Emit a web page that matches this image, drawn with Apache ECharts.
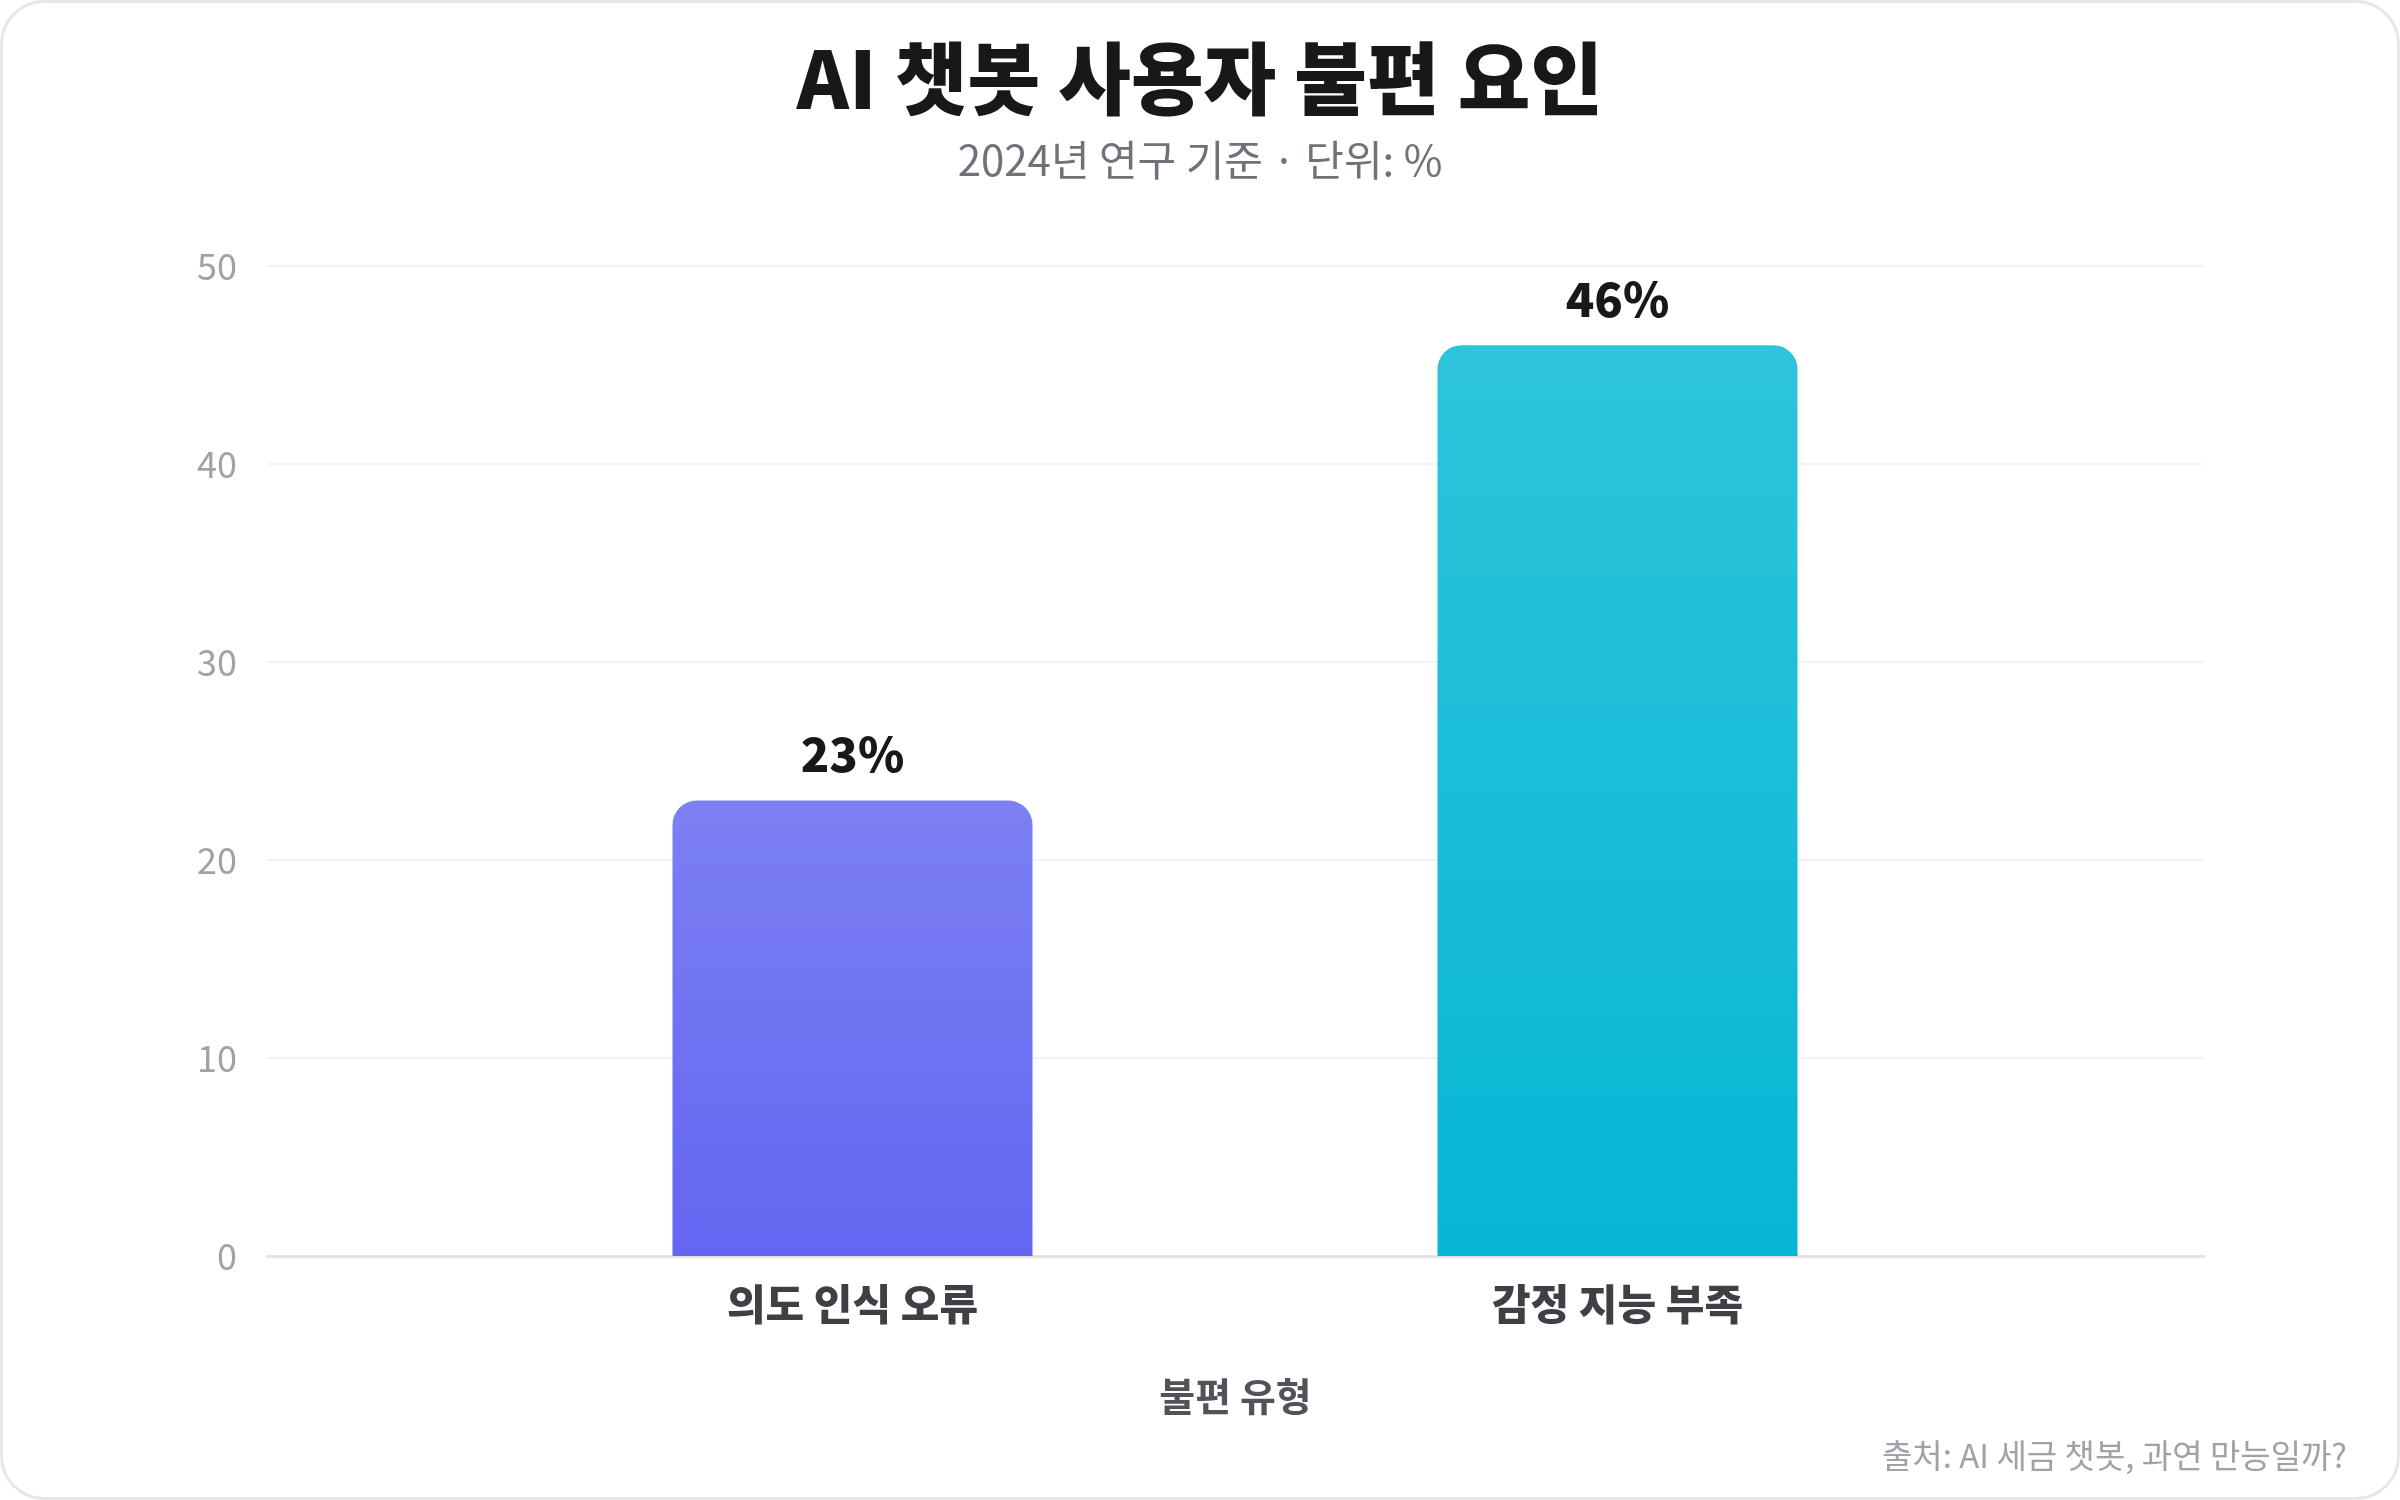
<!DOCTYPE html>
<html>
<head>
<meta charset="utf-8">
<script src="https://cdn.jsdelivr.net/npm/echarts@6/dist/echarts.min.js"></script>
<style>
  html, body { margin: 0; padding: 0; background: #fff; }
  #chart {
    width: 2400px; height: 1500px; box-sizing: border-box;
    border: 3px solid #e6e6e9; border-radius: 44px; overflow: hidden; background: #fff;
  }
</style>
</head>
<body>
<div id="chart"></div>
<script>
const categories = ['의도 인식 오류', '감정 지능 부족'];
const values = [23, 46];
const yTicks = {min: 0, max: 50, interval: 10};

// 막대 그라데이션 (위 -> 아래)
const barColors = [
  ['#7c80f3', '#6366f1'],
  ['#2ec4db', '#06b6d4'],
];

const FONT = '"Noto Sans CJK KR", "Noto Sans", sans-serif';

const chart = echarts.init(document.getElementById('chart'), null, {renderer: 'canvas'});

const option = {
  backgroundColor: 'transparent',
  textStyle: {fontFamily: FONT},
  title: {
    text: 'AI 챗봇 사용자 불편 요인',
    subtext: '2024년 연구 기준 · 단위: %',
    left: 'center',
    top: 29,
    itemGap: 17,
    textStyle: {fontFamily: FONT, fontSize: 79, fontWeight: 900, color: '#18181b', lineHeight: 84},
    subtextStyle: {fontFamily: FONT, fontSize: 42, color: '#71717a', lineHeight: 44},
  },
  grid: [
    // 배경 격자 (전체 폭)
    {left: 264, right: 193, top: 263, bottom: 241},
    // 막대 영역
    {left: 467, right: 397, top: 263, bottom: 241},
  ],
  xAxis: [
    {
      gridIndex: 0,
      type: 'category',
      data: categories,
      name: '불편 유형',
      nameLocation: 'middle',
      nameGap: 121,
      nameTextStyle: {fontFamily: FONT, fontSize: 39, fontWeight: 700, color: '#52525b'},
      axisLine: {show: true, lineStyle: {color: '#e4e4e7', width: 3}},
      axisTick: {show: false},
      axisLabel: {show: false},
    },
    {
      gridIndex: 1,
      type: 'category',
      data: categories,
      axisLine: {show: false},
      axisTick: {show: false},
      axisLabel: {
        margin: 27,
        fontFamily: FONT, fontSize: 42, fontWeight: 800, color: '#3f3f46',
      },
    },
  ],
  yAxis: [
    {
      gridIndex: 0,
      type: 'value',
      min: yTicks.min, max: yTicks.max, interval: yTicks.interval,
      axisLine: {show: false},
      axisTick: {show: false},
      axisLabel: {margin: 30, fontFamily: FONT, fontSize: 36, color: '#a1a1aa'},
      splitLine: {lineStyle: {color: '#f3f3f5', width: 2}},
    },
    {
      gridIndex: 1,
      type: 'value',
      min: yTicks.min, max: yTicks.max, interval: yTicks.interval,
      show: false,
      splitLine: {show: false},
    },
  ],
  series: [
    {
      type: 'bar',
      xAxisIndex: 1,
      yAxisIndex: 1,
      barWidth: 360,
      data: values.map((v, i) => ({
        value: v,
        itemStyle: {
          color: new echarts.graphic.LinearGradient(0, 0, 0, 1, [
            {offset: 0, color: barColors[i][0]},
            {offset: 1, color: barColors[i][1]},
          ]),
        },
      })),
      itemStyle: {borderRadius: [24, 24, 0, 0]},
      label: {
        show: true,
        position: 'top',
        distance: 22,
        formatter: '{c}%',
        fontFamily: FONT, fontSize: 47, fontWeight: 900, color: '#18181b', lineHeight: 48,
      },
      emphasis: {disabled: true},
    },
  ],
  graphic: [
    {
      type: 'text',
      right: 50,
      bottom: 25,
      style: {
        text: '출처: AI 세금 챗봇, 과연 만능일까?',
        font: '33px ' + FONT,
        fill: '#a1a1aa',
      },
    },
  ],
};

chart.setOption(option);
</script>
</body>
</html>
